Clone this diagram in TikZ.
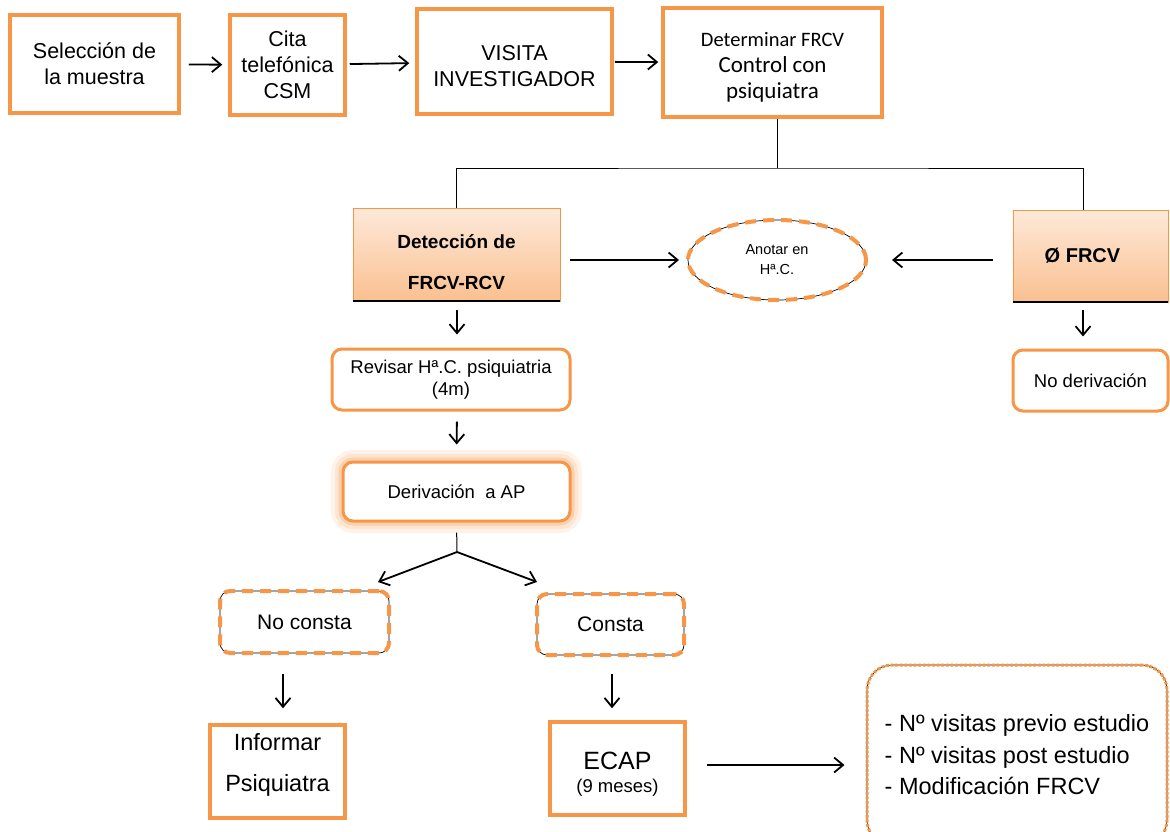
\documentclass[tikz,border=0pt]{standalone}
\usepackage{fontspec}
\setmainfont{Liberation Sans}
\newfontfamily\calibri{Carlito}
\usetikzlibrary{positioning,shapes.geometric,arrows.meta}
\definecolor{naranja}{HTML}{F79646}
\definecolor{melocoton}{HTML}{FDE9D9}
\definecolor{salmon}{HTML}{FAC090}
\tikzset{
  caja/.style={draw=naranja, line width=3.5pt, align=center, font=\fontsize{21.5}{26}\selectfont},
  cajaredonda/.style={draw=naranja, line width=3pt, rounded corners=10pt, align=center, font=\fontsize{18.5}{22}\selectfont},
  discontinua/.style={draw=naranja, line width=4pt, dash pattern=on 11pt off 7pt, rounded corners=10pt,
    preaction={draw=black, line width=0.7pt, solid}, font=\fontsize{21}{24}\selectfont},
  degradado/.style={draw=naranja, line width=0.8pt, top color=melocoton, bottom color=salmon, align=center,
    font=\bfseries\fontsize{19}{41}\selectfont},
  flecha/.style={-{Straight Barb[length=9pt, width=15pt]}, line width=1.8pt},
  rama/.style={line width=0.8pt},
}
\begin{document}
\begin{tikzpicture}[x=1pt, y=-1pt]
\useasboundingbox (0,0) rectangle (1170,831);
\clip (0,0) rectangle (1170,831);

 % fila de arriba
\node[caja, minimum width=169, minimum height=98] (seleccion) at (94.5,64) {Selección de\\la muestra};
\node[caja, minimum width=115, minimum height=100] (cita) at (287.5,65) {Cita\\telefónica\\CSM};
\node[caja, minimum width=195, minimum height=105] (visita) at (514.5,61.5) {\rule{0pt}{24pt}VISITA\\INVESTIGADOR};
\node[caja, minimum width=219, minimum height=109, font=\calibri\fontsize{23}{26}\selectfont] (determinar) at (772.5,62.5)
  {{\fontsize{20.5}{26}\selectfont\rule{0pt}{23pt}Determinar FRCV}\\Control con\\psiquiatra};

\draw[flecha, shorten <=8pt, shorten >=6pt] (seleccion) -- (cita);
\draw[flecha, shorten <=3pt, shorten >=6pt] (cita) -- (visita);
\draw[flecha, shorten <=1pt, shorten >=3pt] (visita) -- (determinar);

 % reparto
\coordinate (hub) at (777,168);
\node[degradado, minimum width=207, minimum height=93] (deteccion) at (456.5,254.5) {\rule{0pt}{30pt}Detección de\\FRCV-RCV};
\node[degradado, minimum width=155, minimum height=92, font=\bfseries\fontsize{20}{22}\selectfont] (nofrcv) at (1090.5,256) {Ø FRCV\hspace*{16pt}};
\draw[line width=2pt] (deteccion.south west) -- (deteccion.south east);
\draw[line width=2pt] (nofrcv.south west) -- (nofrcv.south east);
\draw[rama] ([xshift=4.5pt]determinar.south) -- (hub);
\draw[rama] (deteccion.north) |- (hub) -| ([xshift=-7.5pt]nofrcv.north);

\node[ellipse, discontinua, minimum width=178, minimum height=80, align=center,
  font=\fontsize{14.5}{20}\selectfont] (anotar) at (777,260) {Anotar en\\Hª.C.};
\draw[flecha, shorten <=10pt, shorten >=7pt] ([yshift=-5.5pt]deteccion.east) -- (anotar.west);
\draw[flecha, shorten <=20pt, shorten >=24pt] ([yshift=-4pt]nofrcv.west) -- (anotar.east);

 % rama derecha
\node[cajaredonda, minimum width=155, minimum height=61] (noderiv) at (1090.5,380.5) {No derivación};
\draw[flecha, shorten <=8pt, shorten >=12pt] ([xshift=-7.5pt]nofrcv.south) -- ([xshift=-7.5pt]noderiv.north);

 % rama izquierda
\node[cajaredonda, minimum width=238, minimum height=61] (revisar) at (451,379.5) {Revisar Hª.C. psiquiatria\\(4m)};
\draw[flecha, shorten <=9pt, shorten >=13pt] ([xshift=0.5pt]deteccion.south) -- ([xshift=6pt]revisar.north);

\node[cajaredonda, fill=white, minimum width=227, minimum height=59,
  preaction={draw=naranja!12, line width=24pt},
  preaction={draw=naranja!25, line width=16pt},
  preaction={draw=naranja!45, line width=9pt}] (derivacion) at (456.5,491.5) {Derivación\ \ a AP};
\draw[flecha, shorten <=10pt, shorten >=16pt] ([xshift=6pt]revisar.south) -- (derivacion.north);

\coordinate (split) at (457,552);
\coordinate (finizq) at (378,582);
\coordinate (finder) at (537,582);
\draw[rama, line width=1pt, shorten <=10pt] (derivacion.south) -- (split);
\draw[flecha] (split) -- (finizq);
\draw[flecha] (split) -- (finder);

\node[discontinua, minimum width=169, minimum height=62] (noconsta) at (304.5,622) {No consta};
\node[discontinua, minimum width=147, minimum height=61] (consta) at (610.5,624.5) {Consta};

\node[caja, minimum width=135, minimum height=93, font=\fontsize{23.5}{41}\selectfont] (informar) at (277.5,771.5)
  {Informar\\Psiquiatra\rule[-19pt]{0pt}{1pt}};
\node[caja, minimum width=135, minimum height=93, font=\fontsize{25}{24}\selectfont] (ecap) at (617.5,768.5)
  {\rule{0pt}{28pt}ECAP\\[-1pt]{\fontsize{18.5}{19}\selectfont (9 meses)}};

\draw[flecha, shorten <=19pt, shorten >=15pt] ([xshift=-21.5pt]noconsta.south) -- ([xshift=5.5pt]informar.north);
\draw[flecha, shorten <=17pt, shorten >=12pt] ([xshift=1.5pt]consta.south) -- ([xshift=-5.5pt]ecap.north);

 % resultados
\node[draw=naranja, line width=3pt, dash pattern=on 3pt off 1.6pt, rounded corners=25pt,
  preaction={draw=black, line width=0.6pt, solid}, minimum width=300, minimum height=180,
  align=left, font=\fontsize{23.5}{31.5}\selectfont] (resumen) at (1017,755)
  {- Nº visitas previo estudio\\- Nº visitas post estudio\\- Modificación FRCV};
\draw[flecha, shorten <=20pt, shorten >=21pt] ([yshift=3.5pt]ecap.east) -- ([yshift=-10pt]resumen.west);
\end{tikzpicture}
\end{document}
